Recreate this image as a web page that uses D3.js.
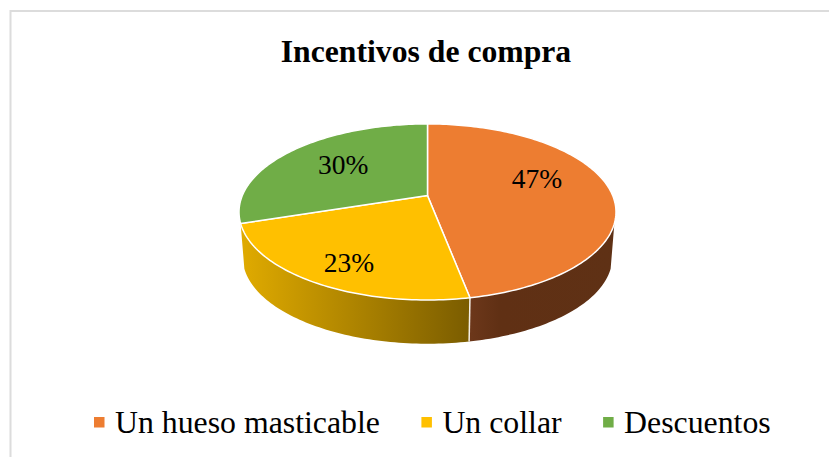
<!DOCTYPE html>
<html>
<head>
<meta charset="utf-8">
<script src="https://cdn.jsdelivr.net/npm/d3@7"></script>
<style>
    html, body { margin: 0; padding: 0; background: #fff; overflow: hidden; }
    svg { display: block; }
    text { font-family: "Liberation Serif", serif; fill: #000; }
</style>
</head>
<body>
<svg></svg>
<script>
const categories = ['Un hueso masticable', 'Un collar', 'Descuentos'];
const values = [47, 23, 30];
const colors = ['#ed7d31', '#ffc000', '#70ad47'];
const chartTitle = 'Incentivos de compra';

const width = 829;
const height = 457;

const svg = d3.select('svg')
    .attr('width', width)
    .attr('height', height);

// chart frame, right and bottom sides fall outside the crop
svg.append('rect')
    .attr('x', 10.5)
    .attr('y', 11)
    .attr('width', 900)
    .attr('height', 600)
    .attr('fill', 'none')
    .attr('stroke', '#dcdcdc')
    .attr('stroke-width', 2);

svg.append('text')
    .text(chartTitle)
    .attr('x', 426)
    .attr('y', 62)
    .attr('text-anchor', 'middle')
    .attr('font-weight', 'bold')
    .attr('font-size', 31.7);

//Perspective projection of the pie disc
const cx = 427.5;
const topY = 195.6;
const bottomY = 241.4;
const rX = 185.2;
const rY = 85;
const persp = 0.186;
const bottomScale = 0.98;

function project(angle, r, originY, scale) {
    const u = Math.sin(angle) * r;
    const v = -Math.cos(angle) * r;
    const w = 1 - persp * v;
    return [cx + scale * rX * u / w, originY + scale * rY * v / w];
}

const arcs = d3.pie().sort(null)(values);

function arcPoints(a0, a1, originY, scale) {
    const steps = Math.max(2, Math.ceil(Math.abs(a1 - a0) / 0.02));
    return d3.range(steps + 1).map(i => project(a0 + (a1 - a0) * i / steps, 1, originY, scale));
}

const line = d3.line();
const defs = svg.append('defs');

const sideGrad = defs.append('linearGradient')
    .attr('id', 'yellowSide')
    .attr('gradientUnits', 'userSpaceOnUse')
    .attr('x1', 243).attr('x2', 471)
    .attr('y1', 0).attr('y2', 0);
sideGrad.append('stop').attr('offset', 0).attr('stop-color', '#dfaa00');
sideGrad.append('stop').attr('offset', 1).attr('stop-color', '#7a5c00');

const orangeGrad = defs.append('linearGradient')
    .attr('id', 'orangeSide')
    .attr('gradientUnits', 'userSpaceOnUse')
    .attr('x1', 471).attr('x2', 614)
    .attr('y1', 0).attr('y2', 0);
orangeGrad.append('stop').attr('offset', 0).attr('stop-color', '#6c371a');
orangeGrad.append('stop').attr('offset', 0.2).attr('stop-color', '#603014');
orangeGrad.append('stop').attr('offset', 1).attr('stop-color', '#5f3115');

//Side walls, only orange and yellow face the viewer
const rimStart = 108 * Math.PI / 180;
const walls = [
    { a0: rimStart, a1: arcs[0].endAngle, fill: 'url(#orangeSide)' },
    { a0: arcs[1].startAngle, a1: arcs[1].endAngle, fill: 'url(#yellowSide)' }
];

svg.append('g')
    .selectAll('path')
    .data(walls)
    .enter()
    .append('path')
    .attr('d', d => line(
        arcPoints(d.a0, d.a1, topY, 1).concat(arcPoints(d.a1, d.a0, bottomY, bottomScale))
    ) + 'Z')
    .attr('fill', d => d.fill);

//Separator between the two walls
svg.append('path')
    .attr('d', line([project(arcs[0].endAngle, 1, topY, 1), project(arcs[0].endAngle, 1, bottomY, bottomScale)]))
    .attr('stroke', '#f4efe6')
    .attr('stroke-width', 1.5)
    .attr('fill', 'none');

//Top of the pie
svg.append('g')
    .selectAll('path')
    .data(arcs)
    .enter()
    .append('path')
    .attr('d', d => line(
        [[cx, topY]].concat(arcPoints(d.startAngle, d.endAngle, topY, 1))
    ) + 'Z')
    .attr('fill', (d, i) => colors[i])
    .attr('stroke', '#fff')
    .attr('stroke-width', 1.5)
    .attr('stroke-linejoin', 'round');

//Data labels sit on the slice middle, nudged the way the original does
const total = d3.sum(values);
const nudge = [[0, -12], [-16, 19], [0, -2]];

svg.append('g')
    .selectAll('text')
    .data(arcs)
    .enter()
    .append('text')
    .text(d => `${Math.round(d.value / total * 100)}%`)
    .attr('x', (d, i) => project((d.startAngle + d.endAngle) / 2, 0.6, topY, 1)[0] + nudge[i][0])
    .attr('y', (d, i) => project((d.startAngle + d.endAngle) / 2, 0.6, topY, 1)[1] + nudge[i][1] + 9)
    .attr('text-anchor', 'middle')
    .attr('font-size', 27.5);

//Legend, laid out from measured text widths
const legend = svg.append('g');
const legendY = 433;
let legendX = 94;

categories.forEach((name, i) => {
    legend.append('rect')
        .attr('x', legendX)
        .attr('y', legendY - 16)
        .attr('width', 10.5)
        .attr('height', 10.5)
        .attr('fill', colors[i]);
    const label = legend.append('text')
        .text(name)
        .attr('x', legendX + 21)
        .attr('y', legendY)
        .attr('font-size', 31.8);
    legendX += 21 + label.node().getComputedTextLength() + 41.5;
});
</script>
</body>
</html>
